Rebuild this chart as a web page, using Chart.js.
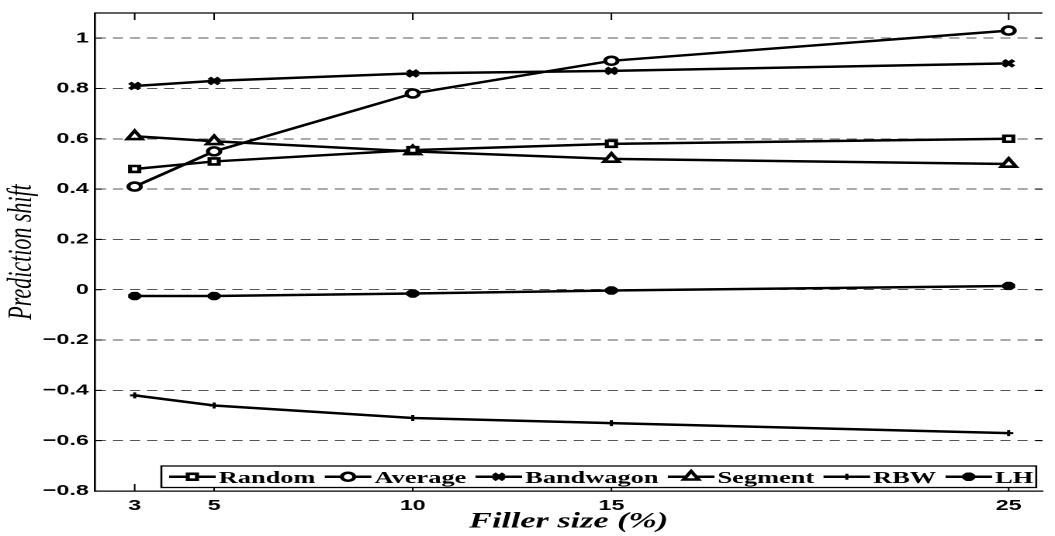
<!DOCTYPE html>
<html>
<head>
<meta charset="utf-8">
<script src="https://cdn.jsdelivr.net/npm/chart.js@4/dist/chart.umd.min.js"></script>
<style>
  html, body { margin: 0; padding: 0; background: #fff; overflow: hidden; }
  #wrap { position: absolute; left: 0; top: 0; width: 680px; height: 536px;
          transform: scaleX(1.55147); transform-origin: 0 0; }
</style>
</head>
<body>
<div id="wrap"><canvas id="c"></canvas></div>
<script>
// ---- data ----
const fillerSizes = [3, 5, 10, 15, 25];
const xTickValues = [3, 5, 10, 15, 25];
const yTickValues = [-0.8, -0.6, -0.4, -0.2, 0, 0.2, 0.4, 0.6, 0.8, 1];
const seriesNames = ['Random', 'Average', 'Bandwagon', 'Segment', 'RBW', 'LH'];
const randomShift    = [0.48, 0.51, 0.555, 0.58, 0.60];
const averageShift   = [0.41, 0.55, 0.78, 0.91, 1.03];
const bandwagonShift = [0.81, 0.83, 0.86, 0.87, 0.90];
const segmentShift   = [0.61, 0.59, 0.55, 0.52, 0.50];
const rbwShift       = [-0.42, -0.46, -0.51, -0.53, -0.57];
const lhShift        = [-0.025, -0.025, -0.015, -0.003, 0.015];
const xTitle = 'Filler size (%)';
const yTitle = 'Prediction shift';

const seriesValues = [randomShift, averageShift, bandwagonShift, segmentShift, rbwShift, lhShift];
const markerStyles = [
  { pointStyle: 'rect',     radius: 4.2, bw: 2.6 },
  { pointStyle: 'circle',   radius: 4.0, bw: 2.6 },
  { pointStyle: 'crossRot', radius: 4.5, bw: 3.2 },
  { pointStyle: 'triangle', radius: 5.5, bw: 2.6 },
  { pointStyle: 'cross',    radius: 3,   bw: 2 },
  { pointStyle: 'star',     radius: 4.2, bw: 3.2 }
];

const datasets = seriesNames.map((name, i) => ({
  label: name,
  data: fillerSizes.map((x, j) => ({ x: x, y: seriesValues[i][j] })),
  borderColor: '#000',
  borderWidth: 2.5,
  backgroundColor: '#fff',
  pointStyle: markerStyles[i].pointStyle,
  pointRadius: markerStyles[i].radius,
  pointBorderWidth: markerStyles[i].bw,
  pointBackgroundColor: '#fff',
  pointBorderColor: '#000',
  fill: false,
  tension: 0
}));

function fmtY(v) {
  const r = Math.round(v * 10) / 10;
  if (r === 0) return '0';
  const s = String(Math.abs(r));
  return (r < 0 ? '\u2212' : '') + s;
}

const framePlugin = {
  id: 'frameLegend',
  afterDatasetsDraw(chart) {
    const ctx = chart.ctx;
    const a = chart.chartArea;
    const xs = chart.scales.x, ys = chart.scales.y;
    ctx.save();
    ctx.strokeStyle = '#000';
    ctx.lineWidth = 1.3;
    // top frame line
    ctx.beginPath();
    ctx.moveTo(a.left, a.top);
    ctx.lineTo(a.right, a.top);
    ctx.stroke();
    // inward x ticks (top & bottom)
    ctx.lineWidth = 1;
    xs.ticks.forEach(t => {
      const px = xs.getPixelForValue(t.value);
      ctx.beginPath();
      ctx.moveTo(px, a.top); ctx.lineTo(px, a.top + 7);
      ctx.moveTo(px, a.bottom); ctx.lineTo(px, a.bottom - 7);
      ctx.stroke();
    });
    // inward y ticks (left & right)
    ys.ticks.forEach(t => {
      const py = ys.getPixelForValue(t.value);
      ctx.beginPath();
      ctx.moveTo(a.left, py); ctx.lineTo(a.left + 4.5, py);
      ctx.moveTo(a.right, py); ctx.lineTo(a.right - 4.5, py);
      ctx.stroke();
    });

    // legend inside the plot, bottom
    const top = a.bottom - 25, bottom = a.bottom - 3.5;
    const mid = (top + bottom) / 2;
    const left = 104;
    ctx.font = 'bold 17px "Liberation Serif", "Times New Roman", serif';
    let x = left + 5;
    const layout = chart.data.datasets.map(ds => {
      const w = ctx.measureText(ds.label).width;
      const item = { ds, x0: x, w };
      x += 32 + w + 6;
      return item;
    });
    const right = Math.min(x - 2, a.right - 4);
    ctx.fillStyle = '#fff';
    ctx.fillRect(left, top, right - left, bottom - top);
    ctx.lineWidth = 1.3;
    ctx.strokeStyle = '#000';
    ctx.strokeRect(left, top, right - left, bottom - top);
    layout.forEach(it => {
      const ds = it.ds;
      ctx.lineWidth = 2.5;
      ctx.strokeStyle = '#000';
      ctx.beginPath();
      ctx.moveTo(it.x0, mid);
      ctx.lineTo(it.x0 + 30, mid);
      ctx.stroke();
      ctx.fillStyle = '#fff';
      ctx.strokeStyle = '#000';
      ctx.lineWidth = ds.pointBorderWidth;
      Chart.helpers.drawPoint(ctx, {
        pointStyle: ds.pointStyle, radius: ds.pointRadius, rotation: 0,
        borderWidth: ds.pointBorderWidth
      }, it.x0 + 15, mid);
      ctx.fillStyle = '#000';
      ctx.textAlign = 'left';
      ctx.textBaseline = 'alphabetic';
      ctx.fillText(ds.label, it.x0 + 32, mid + 6);
    });
    ctx.restore();
  }
};

new Chart(document.getElementById('c'), {
  type: 'line',
  data: { datasets },
  plugins: [framePlugin],
  options: {
    responsive: true,
    maintainAspectRatio: false,
    devicePixelRatio: 2,
    animation: false,
    layout: { padding: { left: 0, right: 0, top: 12, bottom: 0 } },
    plugins: { legend: { display: false }, tooltip: { enabled: false } },
    scales: {
      x: {
        type: 'linear',
        min: 2,
        max: 25.85,
        afterBuildTicks: s => { s.ticks = xTickValues.map(v => ({ value: v })); },
        afterFit: s => { s.height = 45; },
        grid: { display: false, drawTicks: false },
        border: { display: true, color: '#000', width: 1.3 },
        ticks: {
          padding: 6,
          color: '#000',
          font: { family: '"Liberation Sans", Arial, sans-serif', size: 15, weight: 'bold' },
          callback: v => String(v)
        },
        title: {
          display: true, text: xTitle, color: '#000',
          padding: { top: 0, bottom: 1 },
          font: { family: '"Liberation Serif", "Times New Roman", serif', size: 22, style: 'italic', weight: 'bold' }
        }
      },
      y: {
        type: 'linear',
        min: -0.8,
        max: 1.1,
        afterBuildTicks: s => { s.ticks = yTickValues.map(v => ({ value: v })); },
        afterFit: s => { s.width = 61.2; },
        grid: { display: true, drawTicks: false, color: '#555', lineWidth: 1 },
        border: { display: true, color: '#000', width: 1.3, dash: [6.5, 4.5] },
        ticks: {
          padding: 4,
          color: '#000',
          font: { family: '"Liberation Sans", Arial, sans-serif', size: 15, weight: 'bold' },
          callback: v => fmtY(v)
        },
        title: {
          display: true, text: yTitle, color: '#000',
          padding: { top: 1.2, bottom: 0 },
          font: { family: '"Liberation Serif", "Times New Roman", serif', size: 22, style: 'italic' }
        }
      }
    }
  }
});
</script>
</body>
</html>
